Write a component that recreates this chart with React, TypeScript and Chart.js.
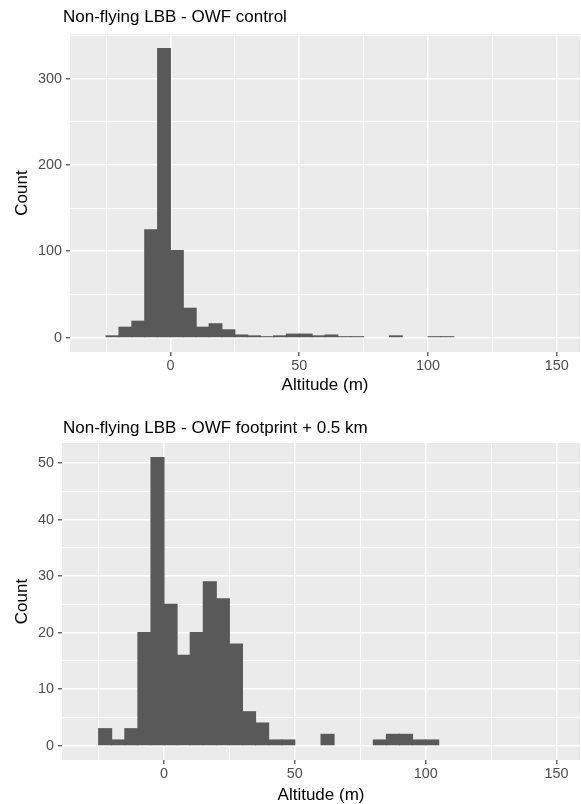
import React, { useEffect, useRef } from "react";
import { Chart, registerables } from "chart.js";

Chart.register(...registerables);

// ---- Data -------------------------------------------------------------
const BIN_WIDTH = 5;

const controlBinStarts = [
  -25, -20, -15, -10, -5, 0, 5, 10, 15, 20, 25, 30, 35, 40, 45, 50, 55, 60, 65,
  70, 75, 80, 85, 90, 95, 100, 105,
];
const controlCounts = [
  2, 12, 19, 125, 335, 101, 34, 12, 16, 9, 3, 2, 1, 2, 4, 4, 2, 3, 1, 1, 0, 0, 2,
  0, 0, 1, 1,
];

const footprintBinStarts = [
  -25, -20, -15, -10, -5, 0, 5, 10, 15, 20, 25, 30, 35, 40, 45, 50, 55, 60, 65,
  70, 75, 80, 85, 90, 95, 100,
];
const footprintCounts = [
  3, 1, 3, 20, 51, 25, 16, 20, 29, 26, 18, 6, 4, 1, 1, 0, 0, 2, 0, 0, 0, 1, 2, 2,
  1, 1,
];

const xAllTicks = [-25, 0, 25, 50, 75, 100, 125, 150];
const xMajorTicks = [0, 50, 100, 150];

const controlYTicks = [0, 50, 100, 150, 200, 250, 300, 350];
const controlYMajor = [0, 100, 200, 300];

const footprintYTicks = [0, 5, 10, 15, 20, 25, 30, 35, 40, 45, 50];
const footprintYMajor = [0, 10, 20, 30, 40, 50];

const controlTitle = "Non-flying LBB - OWF control";
const footprintTitle = "Non-flying LBB - OWF footprint + 0.5 km";
const xTitle = "Altitude (m)";
const yTitle = "Count";

// ---- Styling ----------------------------------------------------------
const FONT = '"Liberation Sans", Arial, Helvetica, sans-serif';
const PANEL_BG = "#EBEBEB";
const BAR_FILL = "#595959";
const TICK_TEXT = "#4D4D4D";

const panelBackground = {
  id: "panelBackground",
  beforeDraw(chart: any) {
    const { ctx, chartArea } = chart;
    ctx.save();
    ctx.fillStyle = PANEL_BG;
    ctx.fillRect(
      chartArea.left,
      chartArea.top,
      chartArea.right - chartArea.left,
      chartArea.bottom - chartArea.top
    );
    ctx.restore();
  },
};

const ggText = {
  id: "ggText",
  afterDraw(chart: any, _args: any, opts: any) {
    const { ctx, chartArea } = chart;
    ctx.save();
    ctx.fillStyle = "#000000";
    ctx.font = `17px ${FONT}`;
    ctx.textAlign = "left";
    ctx.textBaseline = "alphabetic";
    ctx.fillText(opts.title, opts.titleX, opts.titleY);
    ctx.textAlign = "center";
    ctx.fillText(opts.xTitle, (chartArea.left + chartArea.right) / 2, opts.xTitleY);
    ctx.translate(opts.yTitleX, (chartArea.top + chartArea.bottom) / 2);
    ctx.rotate(-Math.PI / 2);
    ctx.textBaseline = "middle";
    ctx.fillText(opts.yTitle, 0, 0);
    ctx.restore();
  },
};

type HistProps = {
  binStarts: number[];
  counts: number[];
  yTicks: number[];
  yMajor: number[];
  yMin: number;
  yMax: number;
  panelTop: number;
  panelBottom: number;
  panelLeft: number;
  height: number;
  title: string;
  titleY: number;
  xTitleY: number;
};

function Histogram(p: HistProps) {
  const ref = useRef<HTMLCanvasElement>(null);

  useEffect(() => {
    if (!ref.current) return;
    const data = p.binStarts
      .map((b, i) => ({ x: b + BIN_WIDTH / 2, y: p.counts[i] }))
      .filter((d) => d.y > 0);

    const isMajorX = (v: number) => xMajorTicks.includes(v);
    const isMajorY = (v: number) => p.yMajor.includes(v);

    const chart = new Chart(ref.current, {
      type: "bar",
      data: {
        datasets: [
          {
            data: data as any,
            backgroundColor: BAR_FILL,
            borderWidth: 0,
            barPercentage: 1,
            categoryPercentage: 1,
            grouped: false,
            inflateAmount: 0.5,
          } as any,
        ],
      },
      options: {
        responsive: false,
        animation: false,
        devicePixelRatio: 1,
        layout: {
          padding: { top: p.panelTop, left: 0, right: 1, bottom: 0 },
        },
        plugins: {
          legend: { display: false },
          tooltip: { enabled: false },
          title: { display: false },
          ggText: {
            title: p.title,
            titleX: 63,
            titleY: p.titleY,
            xTitle,
            xTitleY: p.xTitleY,
            yTitle,
            yTitleX: 22,
          },
        } as any,
        scales: {
          x: {
            type: "linear",
            min: -39,
            max: 159,
            offset: false,
            afterBuildTicks: (s: any) => {
              s.ticks = xAllTicks.map((v) => ({ value: v }));
            },
            afterFit: (s: any) => {
              s.height = p.height - p.panelBottom;
            },
            border: { display: false },
            grid: {
              offset: false,
              drawOnChartArea: true,
              color: "#FFFFFF",
              lineWidth: (c: any) => (isMajorX(c.tick?.value) ? 1.6 : 0.8),
              tickLength: 4,
              tickWidth: 1.1,
              tickColor: (c: any) =>
                isMajorX(c.tick?.value) ? "#333333" : "rgba(0,0,0,0)",
            },
            ticks: {
              autoSkip: false,
              maxRotation: 0,
              minRotation: 0,
              padding: 1,
              color: TICK_TEXT,
              font: { family: FONT, size: 14.4 },
              callback: (v: any) => (isMajorX(Number(v)) ? String(v) : ""),
            },
          } as any,
          y: {
            type: "linear",
            min: p.yMin,
            max: p.yMax,
            afterBuildTicks: (s: any) => {
              s.ticks = p.yTicks.map((v) => ({ value: v }));
            },
            afterFit: (s: any) => {
              s.width = p.panelLeft;
            },
            border: { display: false },
            grid: {
              color: "#FFFFFF",
              lineWidth: (c: any) => (isMajorY(c.tick?.value) ? 1.6 : 0.8),
              tickLength: 4,
              tickWidth: 1.1,
              tickColor: (c: any) =>
                isMajorY(c.tick?.value) ? "#333333" : "rgba(0,0,0,0)",
            },
            ticks: {
              autoSkip: false,
              padding: 4,
              color: TICK_TEXT,
              font: { family: FONT, size: 14.4 },
              callback: (v: any) => (isMajorY(Number(v)) ? String(v) : ""),
            },
          } as any,
        },
      },
      plugins: [panelBackground, ggText],
    });

    return () => chart.destroy();
  }, []);

  return (
    <canvas
      ref={ref}
      width={581}
      height={p.height}
      style={{ display: "block", width: 581, height: p.height }}
    />
  );
}

export default function App() {
  return (
    <div
      style={{
        position: "absolute",
        left: 0,
        top: 0,
        width: 581,
        height: 804,
        background: "#FFFFFF",
      }}
    >
      <div style={{ position: "absolute", left: 0, top: 0 }}>
        <Histogram
          binStarts={controlBinStarts}
          counts={controlCounts}
          yTicks={controlYTicks}
          yMajor={controlYMajor}
          yMin={-16.75}
          yMax={351.75}
          panelTop={34}
          panelBottom={352}
          panelLeft={70}
          height={402}
          title={controlTitle}
          titleY={22}
          xTitleY={390}
        />
      </div>
      <div style={{ position: "absolute", left: 0, top: 402 }}>
        <Histogram
          binStarts={footprintBinStarts}
          counts={footprintCounts}
          yTicks={footprintYTicks}
          yMajor={footprintYMajor}
          yMin={-2.55}
          yMax={53.55}
          panelTop={41}
          panelBottom={358}
          panelLeft={62}
          height={402}
          title={footprintTitle}
          titleY={30.5}
          xTitleY={398}
        />
      </div>
    </div>
  );
}
